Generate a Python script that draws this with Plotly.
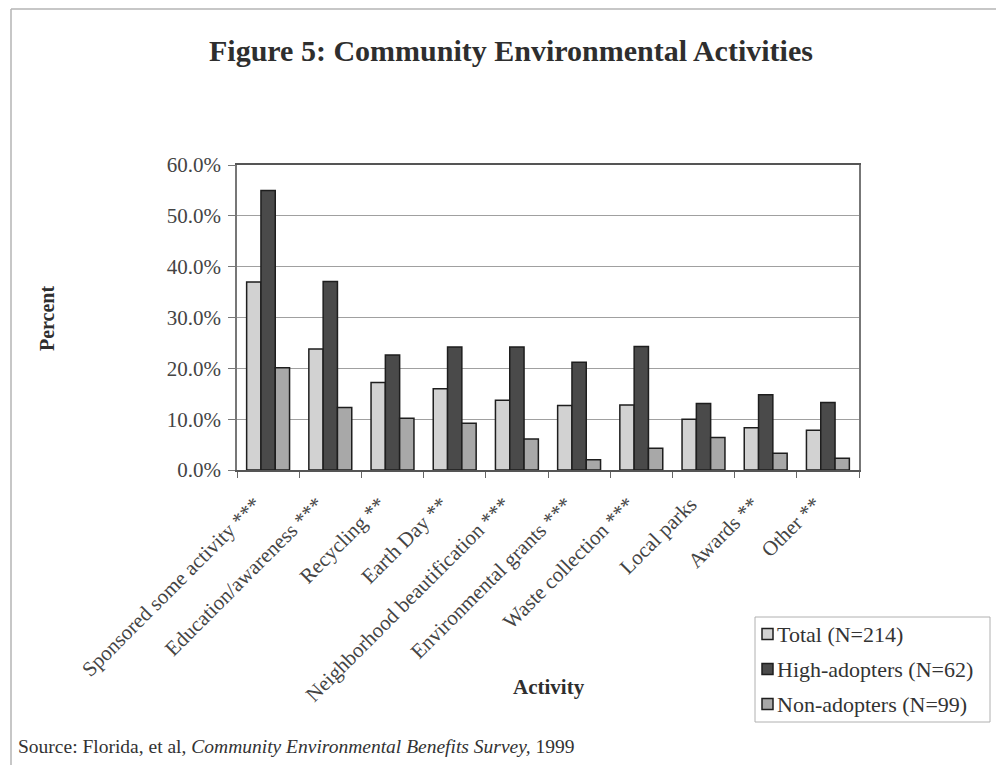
import plotly.graph_objects as go

# Activity categories and percentages per respondent group
activities = [
    "Sponsored some activity ***",
    "Education/awareness ***",
    "Recycling **",
    "Earth Day **",
    "Neighborhood beautification ***",
    "Environmental grants ***",
    "Waste collection ***",
    "Local parks",
    "Awards **",
    "Other **",
]
total_pct = [37.0, 23.8, 17.2, 16.0, 13.7, 12.7, 12.8, 10.0, 8.3, 7.8]
high_pct = [55.0, 37.1, 22.6, 24.2, 24.2, 21.2, 24.3, 13.1, 14.8, 13.3]
non_pct = [20.1, 12.3, 10.2, 9.2, 6.1, 2.0, 4.3, 6.4, 3.3, 2.3]

series_names = ["Total (N=214)", "High-adopters (N=62)", "Non-adopters (N=99)"]
series_values = [total_pct, high_pct, non_pct]
series_colors = ["#d2d2d2", "#4a4a4a", "#a8a8a8"]

y_ticks = [0, 10, 20, 30, 40, 50, 60]
y_tick_text = [f"{v:.1f}%" for v in y_ticks]

SERIF = "Liberation Serif, Times New Roman, serif"

fig = go.Figure()
for name, vals, col in zip(series_names, series_values, series_colors):
    fig.add_trace(go.Bar(
        x=activities, y=vals, name=name, showlegend=False,
        marker=dict(color=col, line=dict(color="#1e1e1e", width=1.5)),
    ))

# plot-area geometry in pixels (used for placing page furniture)
W, H = 996, 765
L, R, T, B = 237, 859, 165, 470


def px_x(p):
    return (p - L) / (R - L)


def px_y(p):
    return (B - p) / (B - T)


annotations = [
    dict(text="<b>Figure 5: Community Environmental Activities</b>",
         xref="paper", yref="paper", x=px_x(511), y=px_y(50),
         xanchor="center", yanchor="middle", showarrow=False,
         font=dict(family=SERIF, size=30, color="#2e2e2e")),
    dict(text="<b>Percent</b>", textangle=-90,
         xref="paper", yref="paper", x=px_x(47), y=px_y(319),
         xanchor="center", yanchor="middle", showarrow=False,
         font=dict(family=SERIF, size=20, color="#2e2e2e")),
    dict(text="<b>Activity</b>",
         xref="paper", yref="paper", x=px_x(549), y=px_y(687),
         xanchor="center", yanchor="middle", showarrow=False,
         font=dict(family=SERIF, size=21, color="#2e2e2e")),
    dict(text="Source: Florida, et al, <i>Community Environmental Benefits Survey,</i> 1999",
         xref="paper", yref="paper", x=px_x(16), y=px_y(746),
         xanchor="left", yanchor="middle", showarrow=False,
         font=dict(family=SERIF, size=19.5, color="#333333")),
]

shapes = [
    # page frame lines
    dict(type="line", xref="paper", yref="paper",
         x0=px_x(11), x1=px_x(11), y0=px_y(9), y1=px_y(765),
         line=dict(color="#b5b5b5", width=1.5)),
    dict(type="line", xref="paper", yref="paper",
         x0=px_x(11), x1=px_x(996), y0=px_y(9), y1=px_y(9),
         line=dict(color="#b5b5b5", width=1.5)),
    # legend box
    dict(type="rect", xref="paper", yref="paper",
         x0=px_x(755), x1=px_x(990), y0=px_y(617), y1=px_y(722),
         line=dict(color="#b0b0b0", width=1), fillcolor="white", layer="below"),
]

# legend entries: small swatch plus label
legend_rows = [634, 669, 704]
for name, col, yc in zip(series_names, series_colors, legend_rows):
    shapes.append(dict(
        type="rect", xref="paper", yref="paper",
        x0=px_x(762), x1=px_x(773), y0=px_y(yc - 5.5), y1=px_y(yc + 5.5),
        line=dict(color="#1e1e1e", width=1.5), fillcolor=col))
    annotations.append(dict(
        text=name, xref="paper", yref="paper", x=px_x(775), y=px_y(yc),
        xanchor="left", yanchor="middle", showarrow=False,
        font=dict(family=SERIF, size=22, color="#333333")))

fig.update_layout(
    width=W, height=H,
    margin=dict(l=L, r=W - R, t=T, b=H - B, autoexpand=False),
    paper_bgcolor="white", plot_bgcolor="white",
    barmode="group", bargap=0.31, bargroupgap=0.0,
    font=dict(family=SERIF, color="#333333"),
    showlegend=False,
    xaxis=dict(
        type="category", tickangle=-45,
        tickfont=dict(family=SERIF, size=21, color="#444444"),
        ticks="outside", ticklen=6, tickcolor="#666666", tickson="boundaries",
        ticklabelstandoff=12, ticklabelshift=-13,
        showline=True, linecolor="#555555", linewidth=1.5, mirror=True,
        showgrid=False,
    ),
    yaxis=dict(
        range=[0, 60], tickvals=y_ticks, ticktext=y_tick_text,
        tickfont=dict(family=SERIF, size=21, color="#444444"),
        ticks="outside", ticklen=7, tickcolor="#777777",
        ticklabelstandoff=3,
        showline=True, linecolor="#777777", linewidth=1.5, mirror=True,
        showgrid=True, gridcolor="#a0a0a0", gridwidth=1,
        zeroline=False,
    ),
    annotations=annotations,
    shapes=shapes,
)

fig.write_html("out.html")
